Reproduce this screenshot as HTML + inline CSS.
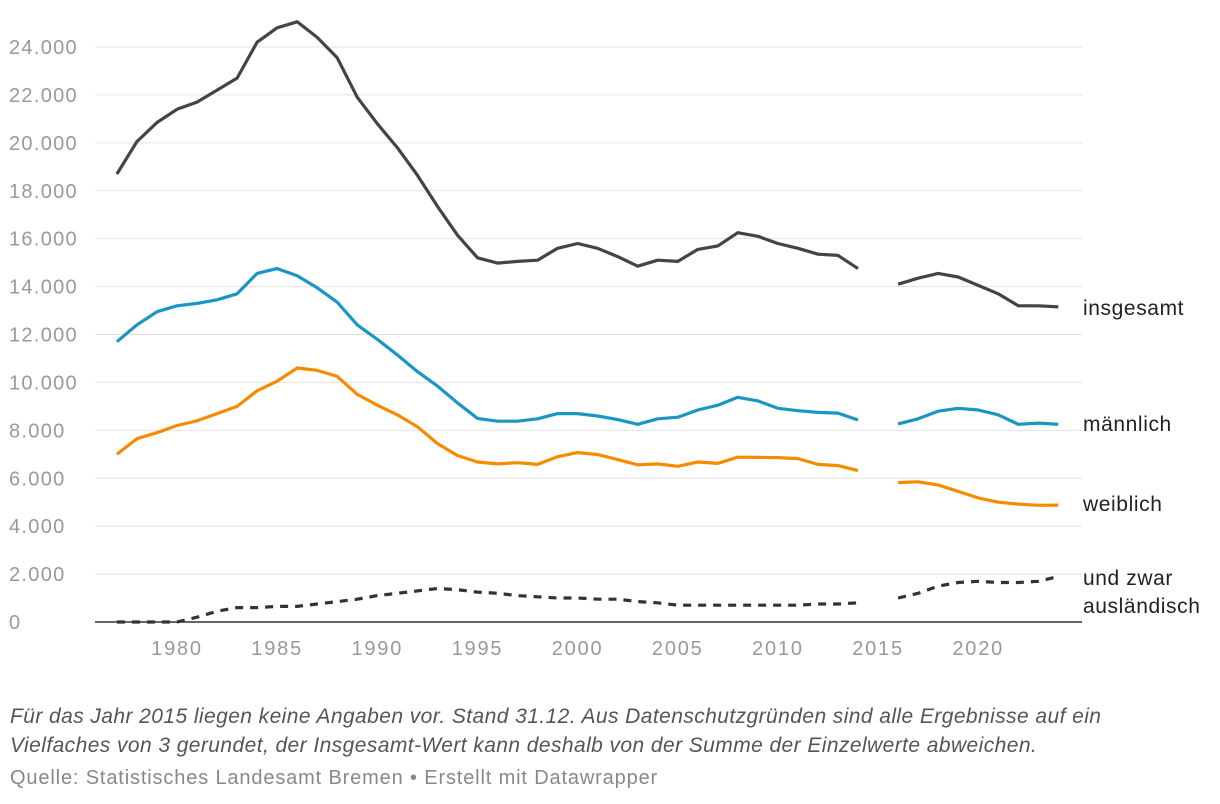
<!DOCTYPE html>
<html><head><meta charset="utf-8"><style>
body{margin:0;background:#fff;width:1220px;height:804px;overflow:hidden;font-family:"Liberation Sans",sans-serif}
svg{position:absolute;left:0;top:0}
.note{position:absolute;left:10px;top:702px;font-style:italic;font-size:21px;color:#555;line-height:29px;width:1110px;letter-spacing:0.42px}
.src{position:absolute;left:10px;top:767px;font-size:20px;color:#888;letter-spacing:0.85px}
</style></head><body>
<svg id="chart" width="1220" height="700"></svg>
<div class="note">Für das Jahr 2015 liegen keine Angaben vor. Stand 31.12. Aus Datenschutzgründen sind alle Ergebnisse auf ein Vielfaches von 3 gerundet, der Insgesamt-Wert kann deshalb von der Summe der Einzelwerte abweichen.</div>
<div class="src">Quelle: Statistisches Landesamt Bremen • Erstellt mit Datawrapper</div>
<script>
const years=[];for(let y=1977;y<=2024;y++)years.push(y);
const insgesamt=[18700,20050,20850,21400,21700,22200,22700,24200,24800,25050,24400,23550,21900,20800,19800,18650,17350,16150,15200,14980,15050,15100,15600,15800,15600,15250,14850,15100,15050,15550,15700,16250,16100,15800,15600,15350,15300,14750,null,14100,14350,14550,14400,14050,13700,13200,13200,13150];
const maennlich=[11700,12400,12950,13200,13300,13450,13700,14550,14750,14450,13950,13350,12400,11800,11150,10450,9850,9150,8500,8380,8380,8480,8700,8700,8600,8450,8250,8480,8550,8850,9050,9380,9230,8920,8820,8750,8720,8430,null,8270,8480,8800,8920,8850,8650,8250,8300,8250];
const weiblich=[7000,7650,7900,8200,8400,8700,9000,9650,10050,10600,10500,10250,9500,9050,8650,8150,7450,6950,6680,6600,6650,6580,6900,7070,6990,6780,6560,6600,6500,6680,6620,6880,6870,6860,6820,6580,6530,6320,null,5820,5850,5720,5450,5180,5000,4920,4870,4880];
const auslaendisch=[0,0,0,0,200,450,600,600,650,650,750,850,950,1100,1200,1300,1400,1350,1250,1200,1100,1050,1000,1000,950,950,850,800,700,700,700,700,700,700,700,750,750,800,null,1000,1200,1500,1650,1700,1650,1650,1700,1900];
const yTicks=[0,2000,4000,6000,8000,10000,12000,14000,16000,18000,20000,22000,24000];
const yTickLabels=["0","2.000","4.000","6.000","8.000","10.000","12.000","14.000","16.000","18.000","20.000","22.000","24.000"];
const xTicks=[1980,1985,1990,1995,2000,2005,2010,2015,2020];
const svg=document.getElementById('chart');const NS='http://www.w3.org/2000/svg';
const X=y=>177+(y-1980)*20.03;const Y=v=>622-v*(575/24000);
function mk(t,a,p){const e=document.createElementNS(NS,t);for(const k in a)e.setAttribute(k,a[k]);(p||svg).appendChild(e);return e;}
yTicks.forEach((v,i)=>{
 const l=mk('line',{x1:95,x2:1082,y1:Y(v),y2:Y(v),stroke:v===0?'#333':'#e3e3e3','stroke-width':v===0?1.5:1});
 
 
 const t=mk('text',{x:9,y:Y(v)+7,'font-size':20,fill:'#999','letter-spacing':1.3});t.textContent=yTickLabels[i];
 
 
});
xTicks.forEach(y=>{
 const t=mk('text',{x:X(y),y:655,'font-size':20,fill:'#999','text-anchor':'middle','letter-spacing':1.8});t.textContent=y;
 
 
});
function series(vals,color,name,dash){
 let d='',pen=false;
 vals.forEach((v,i)=>{if(v===null){pen=false;return;}d+=(pen?'L':'M')+X(years[i]).toFixed(1)+','+Y(v).toFixed(1);pen=true;});
 const p=mk('path',{d:d,fill:'none',stroke:color,'stroke-width':3.2,'stroke-linejoin':'round'});
 if(dash)p.setAttribute('stroke-dasharray','8,7');
 
 
}
series(insgesamt,'#444','line-insgesamt');
series(maennlich,'#1b95c2','line-maennlich');
series(weiblich,'#f78b00','line-weiblich');
series(auslaendisch,'#333','line-auslaendisch',true);
function lab(txt,y,name){const t=mk('text',{x:1083,y:y,'font-size':21,fill:'#222','letter-spacing':0.6});t.textContent=txt;
 
 }
lab('insgesamt',315,'label-insgesamt');lab('männlich',431,'label-maennlich');lab('weiblich',511,'label-weiblich');
lab('und zwar',585,'label-auslaendisch-1');lab('ausländisch',613,'label-auslaendisch-2');
</script>
</body></html>
